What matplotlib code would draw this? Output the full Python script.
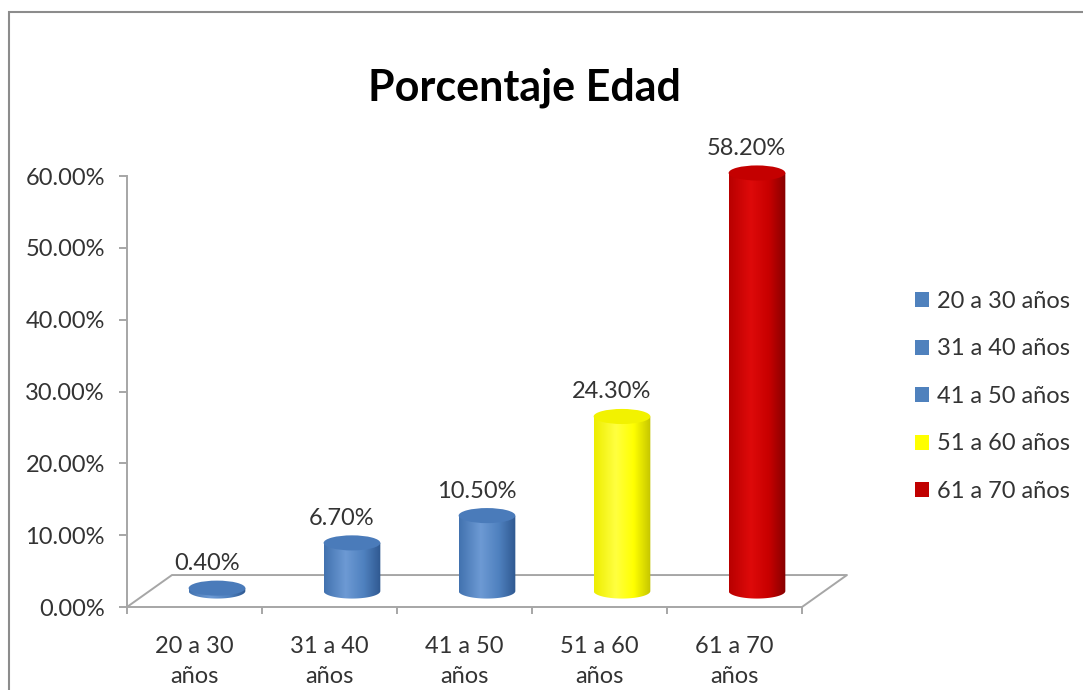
import numpy as np
import matplotlib.pyplot as plt
from matplotlib.patches import Ellipse, Rectangle, PathPatch, Patch
from matplotlib.path import Path
from matplotlib.colors import LinearSegmentedColormap

plt.rcParams['font.family'] = ['Lato', 'DejaVu Sans']

# data
categories = ['20 a 30\naños', '31 a 40\naños', '41 a 50\naños', '51 a 60\naños', '61 a 70\naños']
legend_labels = ['20 a 30 años', '31 a 40 años', '41 a 50 años', '51 a 60 años', '61 a 70 años']
values = [0.40, 6.70, 10.50, 24.30, 58.20]
bar_colors = ['blue', 'blue', 'blue', 'yellow', 'red']

# shading for the cylinders: (gradient stops, top colour, legend colour)
shades = {
    'blue': (['#4272AF', '#6D9AD4', '#4F81BF', '#2F5890'], '#4A7BBA', '#4F81BD'),
    'yellow': (['#EDED00', '#FFFF40', '#FFFF00', '#C4C400'], '#F2F200', '#FFFF00'),
    'red': (['#B80000', '#DE0A0A', '#C80000', '#850000'], '#C40000', '#C00000'),
}

depth_x, depth_y = 0.333, 4.45   # floor depth offset (category units, percent units)
half_w, half_h = 0.21, 1.05      # cylinder radius / ellipse half height

fig = plt.figure(figsize=(10.83, 6.9), dpi=100)
ax = fig.add_axes([127 / 1083, 83 / 690, 675 / 1083, 459.7 / 690])

# floor
gray = '#A6A6A6'
n = len(values)
ax.plot([0, depth_x, n + depth_x, n], [0, depth_y, depth_y, 0], color=gray, lw=1.4, clip_on=False, zorder=1)

grad = np.linspace(0, 1, 256).reshape(1, -1)
for i, (v, c) in enumerate(zip(values, bar_colors)):
    stops, top_col, _ = shades[c]
    cmap = LinearSegmentedColormap.from_list(c, list(zip([0, 0.38, 0.7, 1], stops)))
    cx = i + 0.5 + depth_x / 2
    b = depth_y / 2
    t = b + v
    th = np.linspace(np.pi, 2 * np.pi, 60)
    verts = [(cx - half_w, t), (cx - half_w, b)]
    verts += list(zip(cx + half_w * np.cos(th), b + half_h * np.sin(th)))
    verts += [(cx + half_w, t), (cx - half_w, t)]
    body = PathPatch(Path(verts), transform=ax.transData, facecolor='none', edgecolor='none')
    im = ax.imshow(grad, cmap=cmap, extent=[cx - half_w, cx + half_w, b - half_h, t],
                   aspect='auto', origin='lower', interpolation='bilinear', zorder=2)
    im.set_clip_path(body)
    ax.add_patch(Ellipse((cx, t), 2 * half_w, 2 * half_h, facecolor=top_col, edgecolor='none', zorder=3))
    ax.text(i + 0.5 + 0.09, t + half_h + 0.9, f'{v:.2f}%', ha='center', va='bottom',
            fontsize=17, color='#333333', zorder=4)

ax.set_xlim(0, n)
ax.set_ylim(0, 64)

for s in ['top', 'right']:
    ax.spines[s].set_visible(False)
ax.spines['left'].set_bounds(0, 60)
for s in ['left', 'bottom']:
    ax.spines[s].set_color(gray)
    ax.spines[s].set_linewidth(1.4)

ax.set_yticks(range(0, 70, 10))
ax.set_yticklabels([f'{v:.2f}%' for v in range(0, 70, 10)])
ax.set_xticks(range(n + 1))
ax.set_xticklabels([])
ax.set_xticks(np.arange(n) + 0.5, minor=True)
ax.set_xticklabels(categories, minor=True)
for lab in ax.get_xticklabels(minor=True):
    lab.set_linespacing(1.5)
ax.tick_params(axis='y', length=6, width=1.4, color=gray, pad=10, labelsize=17, labelcolor='#333333')
ax.tick_params(axis='x', which='major', length=5, width=1.4, color=gray)
ax.tick_params(axis='x', which='minor', length=0, pad=21, labelsize=17, labelcolor='#333333')

fig.text(524 / 1083, 1 - 88 / 690, 'Porcentaje Edad', ha='center', va='center',
         fontsize=31, fontweight='bold', color='black')

handles = [Patch(facecolor=shades[c][2], edgecolor='none') for c in bar_colors]
ax.legend(handles, legend_labels, loc='upper left', bbox_to_anchor=(915 / 1083, 1 - 291 / 690),
          bbox_transform=fig.transFigure, frameon=False, fontsize=17, handlelength=0.6,
          handleheight=0.6, handletextpad=0.35, labelspacing=1.12, borderpad=0, borderaxespad=0,
          labelcolor='#333333')

# outer chart frame
fig.add_artist(Rectangle((9 / 1083, -0.2), 1.5, (690 - 12) / 690 + 0.2, transform=fig.transFigure,
                         fill=False, edgecolor='#8C8C8C', lw=1.5))

fig.savefig('out.png', dpi=100)
